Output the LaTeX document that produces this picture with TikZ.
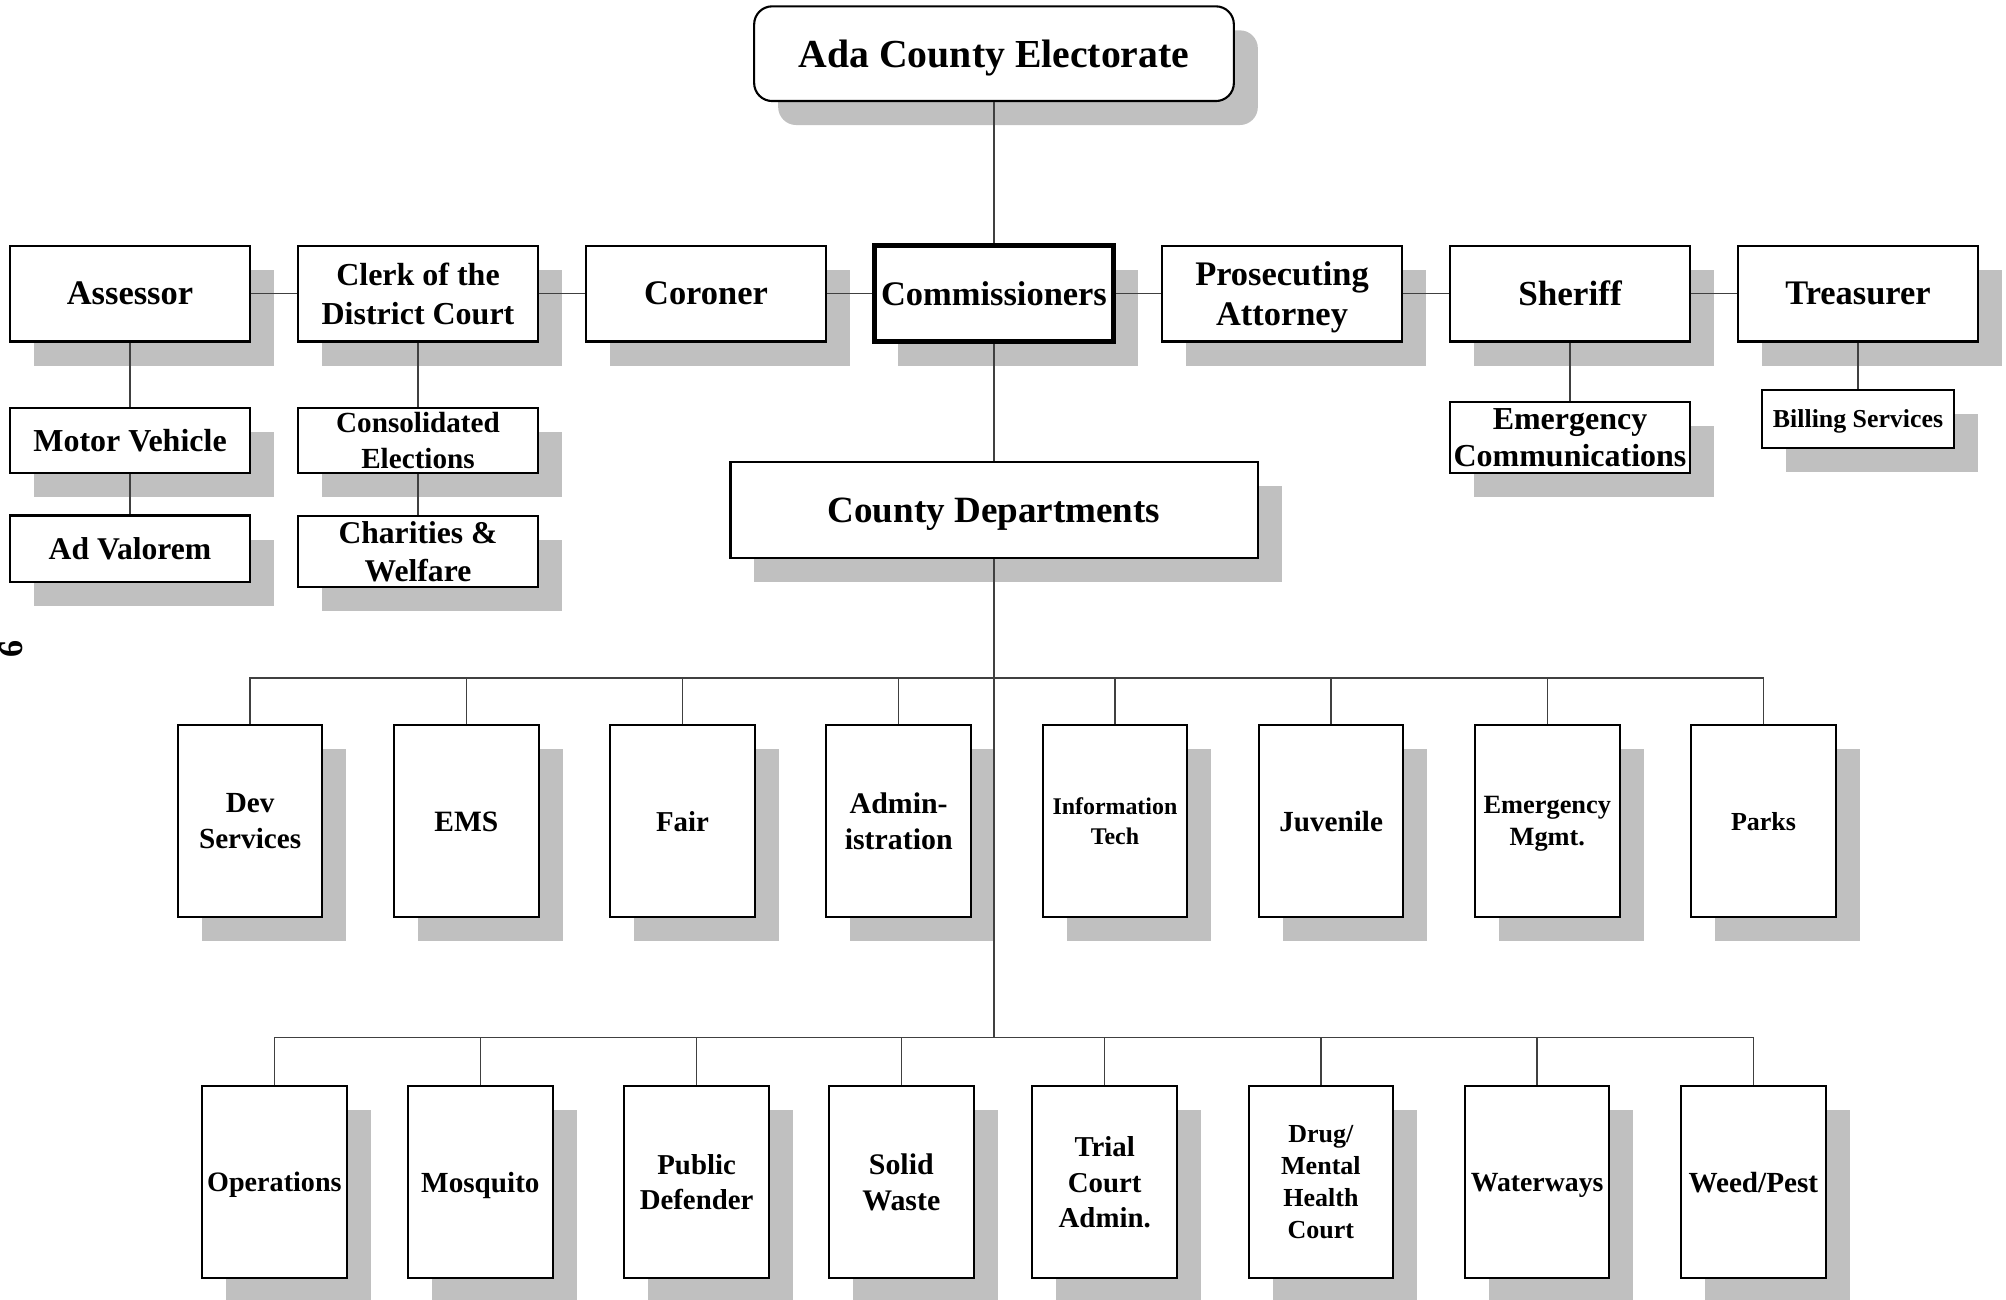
\documentclass[tikz,border=0pt]{standalone}
\usepackage{fontspec}
\setmainfont{Liberation Serif}
\usetikzlibrary{shadows}
\definecolor{shadowgrey}{RGB}{192,192,192}
\definecolor{linkgrey}{RGB}{64,64,64}
\newcommand{\fsz}[2]{\fontsize{#1}{#2}\selectfont\bfseries}

\begin{document}
\begin{tikzpicture}[
  box/.style={draw,line width=0.6pt,fill=white,inner sep=0pt,align=center,text depth=0pt,
    drop shadow={shadow xshift=0.24cm,shadow yshift=-0.24cm,fill=shadowgrey,opacity=1}},
  office/.style={box,minimum width=2.392cm,minimum height=0.959cm,font=\fsz{9.8}{11.6}},
  unit/.style={box,minimum width=2.392cm,font=\fsz{9.1}{10.6}},
  dept/.style={box,minimum width=1.446cm,minimum height=1.919cm,font=\fsz{8.3}{10}},
  link/.style={draw=linkgrey,line width=0.4pt}]
\useasboundingbox (0,0) rectangle (20.06,-13.0);

% electorate and elected offices
\node[box,rounded corners=0.18cm,minimum width=4.797cm,minimum height=0.947cm,font=\fsz{11.3}{13}] (title) at (9.94,-0.537) {Ada County Electorate};
\node[office] (assessor) at (1.30,-2.936) {Assessor};
\node[office,font=\fsz{9.1}{10.9}] (clerk) at (4.18,-2.936) {Clerk of the\\District Court};
\node[office] (coroner) at (7.06,-2.936) {Coroner};
\node[office,line width=1.3pt] (comm) at (9.94,-2.936) {Commissioners};
\node[office] (prosec) at (12.82,-2.936) {Prosecuting\\Attorney};
\node[office,font=\fsz{10}{11.6}] (sheriff) at (15.70,-2.936) {Sheriff};
\node[office] (treas) at (18.58,-2.936) {Treasurer};

% offices under them
\node[unit,minimum height=0.652cm] (motor) at (1.30,-4.407) {Motor Vehicle};
\node[unit,minimum height=0.665cm,font=\fsz{9.0}{10.6}] (adval) at (1.30,-5.488) {Ad Valorem};
\node[unit,minimum height=0.652cm,font=\fsz{8.3}{10.2}] (consol) at (4.18,-4.407) {Consolidated\\Elections};
\node[unit,minimum height=0.716cm,font=\fsz{9.0}{10.9}] (charity) at (4.18,-5.514) {Charities \&\\Welfare};
\node[unit,minimum height=0.716cm] (emcomm) at (15.70,-4.375) {Emergency\\Communications};
\node[unit,minimum width=1.919cm,minimum height=0.576cm,font=\fsz{7.35}{9}] (billing) at (18.58,-4.190) {Billing Services};

\node[box,minimum width=5.271cm,minimum height=0.959cm,font=\fsz{10.55}{12}] (county) at (9.94,-5.098) {County Departments};
\coordinate (bus1) at (9.94,-6.780);
\coordinate (bus2) at (9.94,-10.375);

% departments, first row
\node[dept,font=\fsz{8.3}{10.2}] (dev) at (2.501,-8.213) {Dev\\Services};
\node[dept,font=\fsz{8.4}{10}] (ems) at (4.663,-8.213) {EMS};
\node[dept,font=\fsz{8.2}{10}] (fair) at (6.825,-8.213) {Fair};
\node[dept,font=\fsz{8.5}{10.2}] (admin) at (8.987,-8.213) {Admin-\\istration};
\node[dept,font=\fsz{6.8}{8.4}] (info) at (11.149,-8.213) {Information\\Tech};
\node[dept] (juv) at (13.311,-8.213) {Juvenile};
\node[dept,font=\fsz{7.5}{9.1}] (emgmt) at (15.473,-8.213) {Emergency\\Mgmt.};
\node[dept,font=\fsz{7.4}{9}] (parks) at (17.635,-8.213) {Parks};

% departments, second row
\node[dept,font=\fsz{8.0}{10}] (ops) at (2.744,-11.821) {Operations};
\node[dept] (mosq) at (4.804,-11.821) {Mosquito};
\node[dept,font=\fsz{8.2}{9.8}] (pubdef) at (6.966,-11.821) {Public\\Defender};
\node[dept,font=\fsz{8.5}{10}] (waste) at (9.013,-11.821) {Solid\\Waste};
\node[dept,font=\fsz{8.2}{10}] (trial) at (11.047,-11.821) {Trial\\Court\\Admin.};
\node[dept,font=\fsz{7.4}{9.1}] (drug) at (13.209,-11.821) {Drug/\\Mental\\Health\\Court};
\node[dept,font=\fsz{7.9}{10}] (water) at (15.371,-11.821) {Waterways};
\node[dept] (weed) at (17.533,-11.821) {Weed/Pest};

\node[rotate=90,inner sep=0pt,font=\fsz{9.7}{11}] (pagenum) at (0.11,-6.49) {6};

% connectors
\draw[link] (title) -- (comm);
\draw[link] (assessor) -- (clerk);
\draw[link] (clerk) -- (coroner);
\draw[link] (coroner) -- (comm);
\draw[link] (comm) -- (prosec);
\draw[link] (prosec) -- (sheriff);
\draw[link] (sheriff) -- (treas);
\draw[link] (assessor) -- (motor);
\draw[link] (motor) -- (adval);
\draw[link] (clerk) -- (consol);
\draw[link] (consol) -- (charity);
\draw[link] (sheriff) -- (emcomm);
\draw[link] (treas) -- (billing);
\draw[link] (comm) -- (county);
\draw[link] (county) -- (bus2);
\draw[link] (dev) |- (bus1);
\draw[link] (ems) |- (bus1);
\draw[link] (fair) |- (bus1);
\draw[link] (admin) |- (bus1);
\draw[link] (info) |- (bus1);
\draw[link] (juv) |- (bus1);
\draw[link] (emgmt) |- (bus1);
\draw[link] (parks) |- (bus1);
\draw[link] (ops) |- (bus2);
\draw[link] (mosq) |- (bus2);
\draw[link] (pubdef) |- (bus2);
\draw[link] (waste) |- (bus2);
\draw[link] (trial) |- (bus2);
\draw[link] (drug) |- (bus2);
\draw[link] (water) |- (bus2);
\draw[link] (weed) |- (bus2);
\end{tikzpicture}
\end{document}
